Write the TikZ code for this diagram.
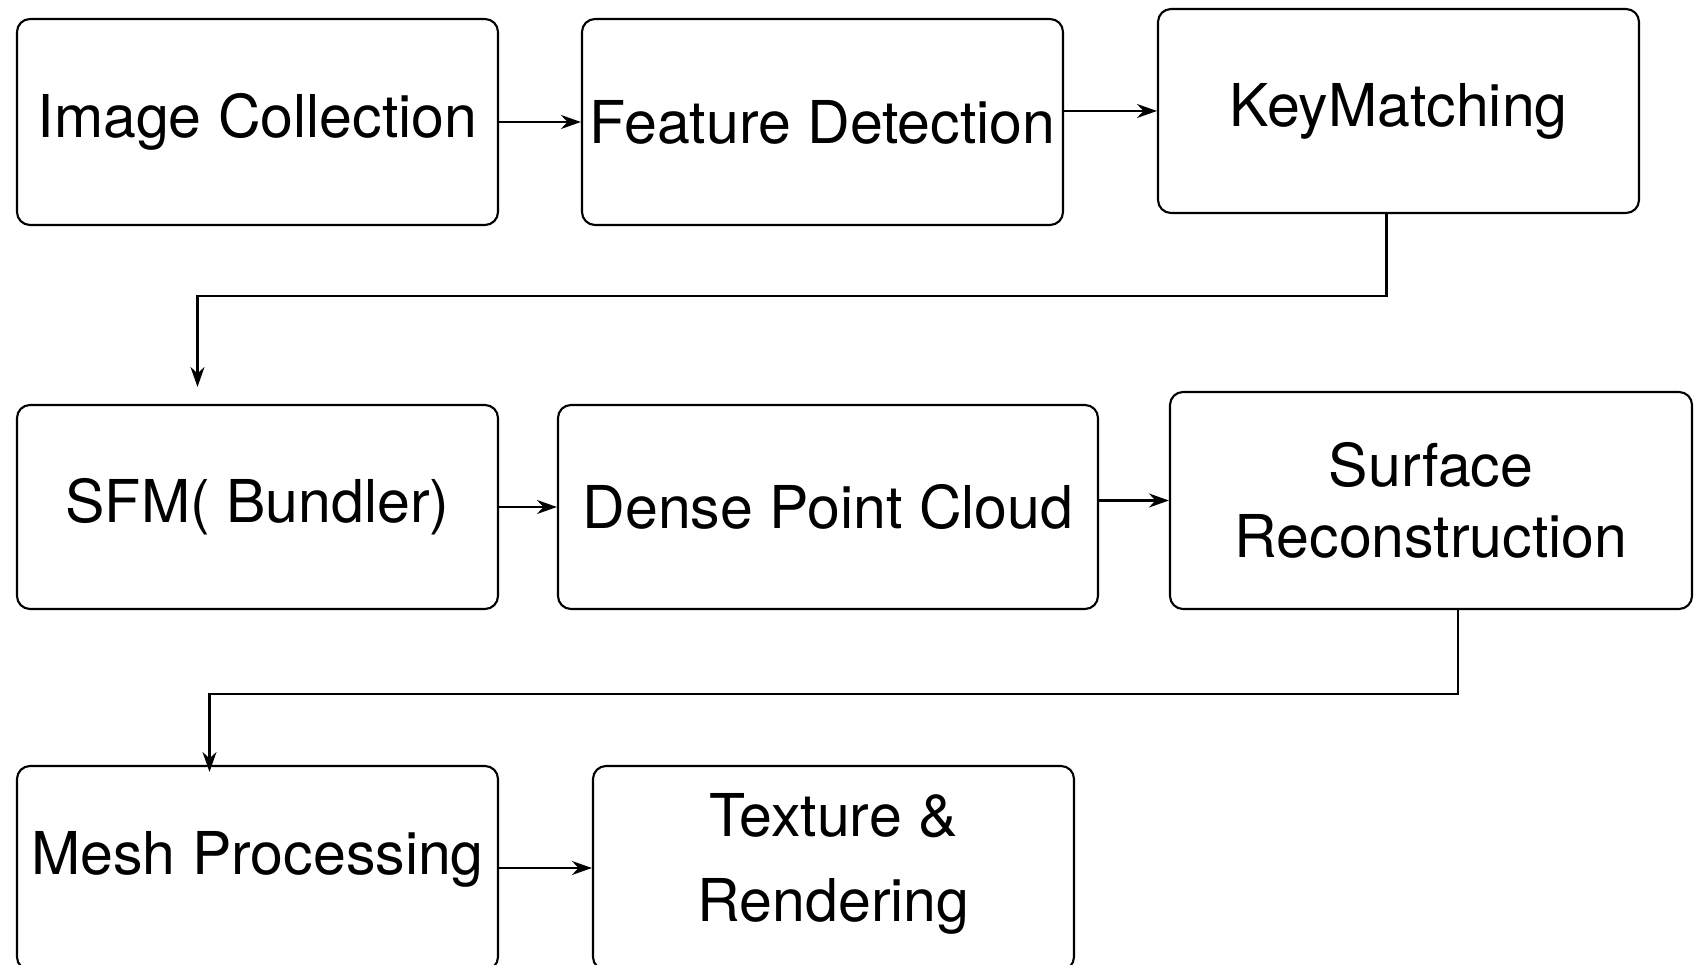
\documentclass[tikz,border=0pt]{standalone}
\usepackage{fontspec}
\setmainfont{TeX Gyre Heros}
\usetikzlibrary{arrows.meta}
\tikzset{
  stageBox/.style={draw, line width=0.6pt, rounded corners=0.13cm, inner sep=0pt, align=center, font=\fontsize{16.8}{20}\selectfont},
  flowArrow/.style={draw, line width=0.6pt, -{Stealth[length=0.2cm,width=0.14cm]}}
}

\begin{document}
\begin{tikzpicture}
  \useasboundingbox (0,0) rectangle (16.95,-9.65);
  \clip (0,0) rectangle (16.95,-9.65);

  \node[stageBox, minimum width=4.81cm, minimum height=2.06cm] (coll) at (2.575,-1.22) {Image Collection};
  \node[stageBox, minimum width=4.81cm, minimum height=2.06cm] (feat) at (8.225,-1.22) {Feature Detection};
  \node[stageBox, minimum width=4.81cm, minimum height=2.04cm] (key) at (13.985,-1.11) {KeyMatching};

  \node[stageBox, minimum width=4.81cm, minimum height=2.04cm] (sfm) at (2.575,-5.07) {SFM( Bundler)};
  \node[stageBox, minimum width=5.40cm, minimum height=2.04cm] (dense) at (8.28,-5.07) {Dense Point Cloud};
  \node[stageBox, minimum width=5.22cm, minimum height=2.17cm] (surf) at (14.31,-5.005) {Surface\\Reconstruction};

  \node[stageBox, minimum width=4.81cm, text height=1.08cm, text depth=0.96cm] (mesh) at (2.575,-8.68) {Mesh Processing};
  \node[stageBox, minimum width=4.81cm, text height=1.55cm, text depth=0.49cm] (tex) at (8.335,-8.68) {Texture \&\\[4pt]Rendering};

  \draw[flowArrow] (coll) -- (feat);
  \draw[flowArrow] (feat.east |- key.west) -- (key.west);
  \draw[flowArrow] ([xshift=-0.12cm]key.south) -- ++(0,-0.82) -| ([xshift=-0.6cm,yshift=0.17cm]sfm.north);

  \draw[flowArrow] (sfm) -- (dense);
  \draw[flowArrow] (dense.east |- surf.west) -- (surf.west);
  \draw[flowArrow] ([xshift=0.27cm]surf.south) -- ++(0,-0.84) -| ([xshift=-0.48cm,yshift=-0.07cm]mesh.north);

  \draw[flowArrow] (mesh) -- (tex);
\end{tikzpicture}
\end{document}
